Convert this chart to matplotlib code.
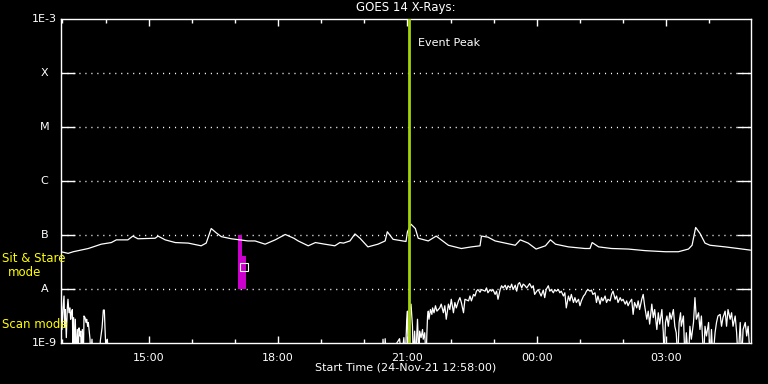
"""
GOES 14 X-ray flux plot, IDL-style black background.
"""

import matplotlib

matplotlib.use("Agg")
import matplotlib.dates as mdates  # noqa: E402
import matplotlib.pyplot as plt  # noqa: E402
import numpy as np  # noqa: E402
import pandas as pd  # noqa: E402

START = pd.Timestamp("2021-11-24 12:58:00")
END = START + pd.Timedelta(minutes=960)
EVENT_PEAK = pd.Timestamp("2021-11-24 21:02:00")

# long channel (1-8 A): minutes from start, log10 flux
long_min = [0, 10, 17, 24, 38, 56, 70, 77, 93, 100, 107, 131, 135, 145, 159, 177,
            195, 202, 209, 216, 223, 237, 249, 260, 270, 284, 298, 312, 324, 330,
            344, 354, 367, 381, 388, 393, 402, 409, 416, 427, 441, 451, 454, 462,
            480, 482, 487, 493, 497, 511, 522, 529, 539, 557, 571, 583, 585, 594,
            604, 618, 632, 639, 650, 661, 674, 681, 688, 706, 729, 736, 739, 748,
            766, 789, 813, 841, 859, 873, 878, 883, 889, 896, 903, 924, 942, 959]
long_log = [-7.31, -7.34, -7.31, -7.29, -7.25, -7.17, -7.14, -7.09, -7.09, -7.02,
            -7.07, -7.06, -7.02, -7.09, -7.14, -7.15, -7.20, -7.15, -6.88, -6.96,
            -7.03, -7.07, -7.09, -7.11, -7.11, -7.17, -7.09, -6.99, -7.06, -7.11,
            -7.20, -7.14, -7.17, -7.20, -7.14, -7.15, -7.11, -6.98, -7.06, -7.22,
            -7.17, -7.11, -6.94, -7.08, -7.12, -6.94, -6.80, -6.88, -7.06, -7.11,
            -7.02, -7.09, -7.19, -7.25, -7.22, -7.20, -7.02, -7.04, -7.11, -7.15,
            -7.19, -7.09, -7.15, -7.26, -7.20, -7.09, -7.17, -7.22, -7.25, -7.25,
            -7.14, -7.22, -7.25, -7.26, -7.29, -7.31, -7.31, -7.26, -7.19, -6.86,
            -6.97, -7.15, -7.19, -7.22, -7.25, -7.28]

# short channel (0.5-4 A); -9.3 means below the plot floor
short_min = [0.5, 1.4, 2.8, 4.2, 5.1, 6.0, 7.4, 8.8, 9.7, 11.1, 12.5, 13.4, 14.4,
             15.8, 16.7, 17.6, 19.0, 19.9, 21.3, 22.7, 23.7, 25.1, 26.4, 27.4, 28.3,
             29.7, 31.1, 32.0, 33.4, 34.8, 35.7, 37.1, 38.0, 39.4, 40.4, 41.3, 43.1,
             44.5, 53.8, 54.7, 57.1, 58.9, 60.3, 61.2, 63.1, 64.5, 65.9, 447,
             448, 450, 451, 453, 471, 474, 477, 479, 481, 482, 483, 485, 487, 489,
             490, 492, 494, 495, 496, 498, 499, 501, 503, 504, 506, 508, 509, 510,
             511, 512, 514, 516, 517, 519, 521, 523, 525, 527, 529, 532, 534, 536,
             539, 541, 543, 546, 548, 550, 553, 555, 557, 560, 562, 567, 569, 571,
             574, 576, 578, 580, 583, 585, 590, 592, 594, 597, 599, 601, 604, 606,
             608, 611, 613, 615, 618, 620, 622, 625, 627, 629, 632, 634, 636, 638,
             641, 643, 645, 648, 650, 652, 655, 657, 659, 662, 664, 666, 668, 671,
             673, 675, 678, 680, 682, 685, 687, 689, 692, 694, 696, 699, 701, 703,
             706, 708, 710, 713, 715, 717, 720, 722, 724, 727, 729, 731, 733, 736,
             738, 740, 743, 745, 747, 750, 752, 754, 757, 759, 761, 764, 766, 768,
             771, 773, 775, 778, 780, 782, 785, 787, 789, 791, 794, 796, 798, 801,
             803, 805, 808, 810, 812, 815, 817, 819, 822, 824, 826, 829, 831, 833,
             836, 838, 839, 841, 843, 845, 847, 849, 852, 854, 856, 858, 860, 862,
             863, 866, 868, 870, 873, 875, 877, 880, 882, 884, 887, 889, 891, 894,
             896, 898, 901, 903, 905, 907, 910, 912, 914, 917, 919, 921, 924, 926,
             928, 931, 933, 935, 938, 940, 942, 945, 947, 949, 952, 954, 956, 959]
short_log = [-8.31, -8.75, -8.35, -8.13, -8.69, -8.38, -8.90, -8.35, -8.19, -8.44,
             -8.35, -8.56, -8.44, -8.38, -9.3, -8.53, -9.3, -8.56, -9.3, -8.75,
             -9.3, -8.72, -8.87, -8.78, -9.3, -8.75, -9.3, -8.50, -8.53, -8.62,
             -8.56, -8.69, -8.62, -8.81, -8.93, -9.3, -8.93, -9.3, -9.3, -8.96,
             -8.72, -8.39, -8.39, -8.72, -9.3, -8.93, -9.3, -9.3,
             -8.93, -9.3, -8.92, -9.3, -8.92, -9.3, -8.90, -9.3, -8.59, -8.41,
             -9.3, -8.38, -8.28, -8.69, -9.3, -8.78, -9.3, -8.84, -8.56, -9.3,
             -8.78, -8.90, -8.75, -8.93, -8.81, -9.3, -8.84, -8.50, -8.41, -8.56,
             -8.38, -8.47, -8.35, -8.44, -8.31, -8.41, -8.38, -8.35, -8.28, -8.44,
             -8.31, -8.56, -8.28, -8.38, -8.19, -8.44, -8.25, -8.35, -8.22, -8.16,
             -8.25, -8.44, -8.19, -8.22, -8.13, -8.22, -8.10, -8.13, -8.04, -8.01,
             -8.06, -8.01, -8.04, -7.98, -8.07, -8.01, -8.04, -8.01, -8.10, -8.04,
             -8.19, -8.01, -7.94, -7.98, -7.93, -8.01, -7.94, -7.98, -7.91, -8.01,
             -7.93, -8.04, -7.91, -7.88, -7.98, -7.91, -7.93, -7.98, -7.94, -7.90,
             -7.98, -7.94, -8.10, -8.04, -8.01, -8.07, -8.13, -8.02, -8.16, -8.01,
             -7.94, -8.04, -8.01, -8.07, -8.01, -8.04, -8.01, -8.07, -8.04, -8.13,
             -8.07, -8.35, -8.13, -8.22, -8.10, -8.25, -8.16, -8.25, -8.19, -8.31,
             -8.22, -8.13, -8.10, -8.04, -8.01, -8.04, -8.02, -8.10, -8.07, -8.25,
             -8.13, -8.28, -8.16, -8.22, -8.13, -8.25, -8.19, -8.22, -8.10, -8.04,
             -8.19, -8.13, -8.25, -8.16, -8.22, -8.19, -8.28, -8.22, -8.31, -8.25,
             -8.19, -8.47, -8.25, -8.35, -8.22, -8.38, -8.19, -8.10, -8.31, -8.56,
             -8.41, -8.65, -8.28, -8.53, -8.38, -8.75, -8.44, -8.65, -8.38, -8.81,
             -9.3, -8.62, -8.50, -8.69, -8.44, -8.56, -8.38, -8.69, -8.81, -9.3,
             -8.62, -8.44, -8.69, -8.50, -9.3, -8.81, -9.3, -8.69, -8.93, -8.62,
             -8.16, -8.56, -8.44, -8.75, -8.50, -9.3, -8.69, -8.87, -8.62, -9.3,
             -8.75, -9.3, -8.81, -8.62, -8.50, -8.47, -8.69, -8.53, -8.41, -8.69,
             -8.38, -8.56, -8.44, -8.69, -8.50, -8.81, -9.3, -8.62, -9.3, -8.75,
             -8.62, -8.87, -8.69, -9.3]

# mode bar (sit & stare): start/end of the two parts, log flux range
bar_times = ["2021-11-24 17:04", "2021-11-24 17:10", "2021-11-24 17:15"]
bar_logs = [-8.0, -7.39, -7.0]

LEVELS = [-8, -7, -6, -5, -4]
LEVEL_NAMES = ["A", "B", "C", "M", "X"]

FG = "white"
YELLOW = "#ffff00"
PEAK_GREEN = "#a3d40a"


def to_time(minutes):
    return START + pd.to_timedelta(np.asarray(minutes, dtype=float), unit="min")


fig = plt.figure(figsize=(7.68, 3.84), dpi=100, facecolor="black")
ax = fig.add_axes([61 / 768, 41 / 384, 690 / 768, 324 / 384], facecolor="black")
ax.set_yscale("log")
ax.set_ylim(1e-9, 1e-3)
ax.set_xlim(START, END)

for lv in LEVELS:
    ax.axhline(10.0 ** lv, color=FG, lw=1, ls=(0, (0.8, 3.5)), zorder=1)

ax.plot(to_time(long_min), 10.0 ** np.array(long_log), color=FG, lw=0.9, zorder=3)
ax.plot(to_time(short_min), 10.0 ** np.array(short_log), color=FG, lw=0.9, zorder=3)

t0, t1, t2 = pd.to_datetime(bar_times)
ax.fill_between([t0, t2], 10.0 ** bar_logs[0], 10.0 ** bar_logs[1],
                color="#cc00cc", lw=0, zorder=2)
ax.fill_between([t0, t1], 10.0 ** bar_logs[1], 10.0 ** bar_logs[2],
                color="#cc00cc", lw=0, zorder=2)
ax.plot([pd.Timestamp("2021-11-24 17:13")], [10.0 ** -7.6], marker="s", ms=6,
        mfc="none", mec=FG, mew=0.8, zorder=4)

ax.axvline(EVENT_PEAK, color=PEAK_GREEN, lw=2, zorder=4)
ax.text(EVENT_PEAK + pd.Timedelta(minutes=12), 10.0 ** -3.45, "Event Peak",
        color=FG, fontsize=8, va="center", ha="left")

for s in ax.spines.values():
    s.set_color(FG)
    s.set_linewidth(1)

ax.xaxis.set_major_locator(mdates.HourLocator(byhour=range(0, 24, 3)))
ax.xaxis.set_minor_locator(mdates.HourLocator())
ax.xaxis.set_major_formatter(mdates.DateFormatter("%H:%M"))
ax.tick_params(axis="x", which="major", direction="in", length=5, width=1,
               color=FG, labelcolor=FG, labelsize=8, top=True, pad=7)
ax.tick_params(axis="x", which="minor", direction="in", length=3, width=1,
               color=FG, top=True)

ax.set_yticks([10.0 ** lv for lv in LEVELS])
ax.yaxis.set_minor_locator(matplotlib.ticker.NullLocator())
ax.tick_params(axis="y", which="major", direction="in", length=10, width=1,
               color=FG, labelleft=False, right=True)

ytrans = ax.get_yaxis_transform()
for lv, name in zip(LEVELS, LEVEL_NAMES):
    ax.text(-0.024, 10.0 ** lv, name, transform=ytrans, color=FG, fontsize=8,
            ha="center", va="center")
ax.text(-0.006, 1e-3, "1E-3", transform=ytrans, color=FG, fontsize=8,
        ha="right", va="center")
ax.text(-0.006, 1e-9, "1E-9", transform=ytrans, color=FG, fontsize=8,
        ha="right", va="center")

fig.text(2 / 768, 1 - 259 / 384, "Sit & Stare", color=YELLOW, fontsize=8.5,
         ha="left", va="center", zorder=5)
fig.text(25 / 768, 1 - 272 / 384, "mode", color=YELLOW, fontsize=8.5,
         ha="center", va="center")
fig.text(2 / 768, 1 - 324 / 384, "Scan mode", color=YELLOW, fontsize=8.5,
         ha="left", va="center", zorder=5)

fig.text(406 / 768, 1 - 8 / 384, "GOES 14 X-Rays:", color=FG, fontsize=8.5,
         ha="center", va="center")
fig.text(406 / 768, 1 - 368 / 384, "Start Time (24-Nov-21 12:58:00)", color=FG,
         fontsize=8, ha="center", va="center")

fig.savefig("out.png", dpi=100, facecolor="black")
